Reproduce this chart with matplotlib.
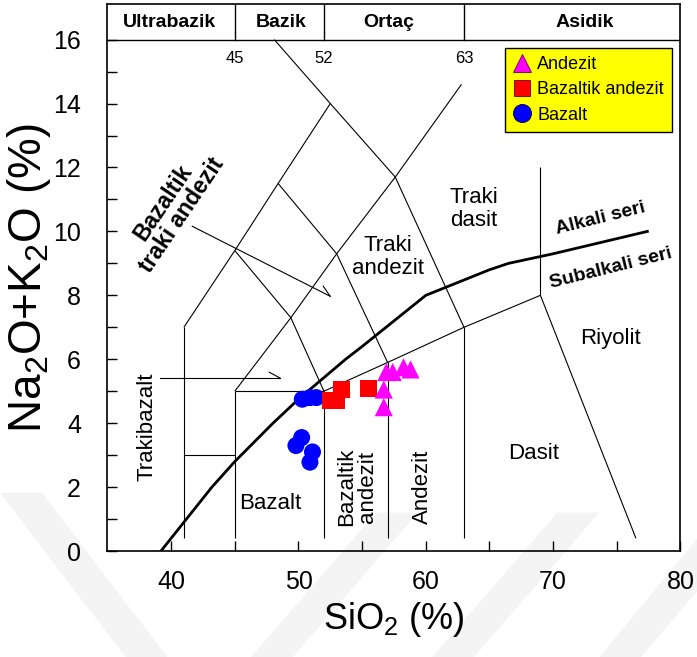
import matplotlib
matplotlib.use("Agg")
import matplotlib.pyplot as plt
from matplotlib.lines import Line2D
from matplotlib.patches import Polygon

plt.rcParams['font.family'] = ['Liberation Sans', 'DejaVu Sans']
plt.rcParams['mathtext.fontset'] = 'custom'
plt.rcParams['mathtext.rm'] = 'Liberation Sans'

# sample analyses (SiO2 vs total alkali, wt%)
bazalt_sio2 = [50.3, 50.9, 51.4, 50.25, 49.8, 51.1, 50.9]
bazalt_alk = [4.75, 4.8, 4.8, 3.55, 3.3, 3.1, 2.78]
baz_andezit_sio2 = [52.55, 53.0, 53.4, 55.5]
baz_andezit_alk = [4.7, 4.7, 5.05, 5.08]
andezit_sio2 = [56.9, 57.4, 58.25, 58.8, 56.7, 56.7]
andezit_alk = [5.6, 5.6, 5.75, 5.68, 5.05, 4.5]

# TAS field boundaries (Le Bas et al.)
fields = [
    ([41, 41], [0.4, 7]),
    ([45, 45], [0.4, 5]),
    ([52, 52], [0.4, 5]),
    ([57, 57], [0.4, 5.9]),
    ([63, 63], [0.4, 7]),
    ([41, 45], [3, 3]),
    ([45, 52], [5, 5]),
    ([52, 57, 63, 69], [5, 5.9, 7, 8]),
    ([69, 69], [8, 12]),
    ([69, 76.5], [8, 0.4]),
    ([41, 45, 48.4, 52.5], [7, 9.4, 11.5, 14]),
    ([48.1, 52.5, 57.6, 63], [16, 14, 11.7, 7]),
    ([45, 49.4, 52], [9.4, 7.3, 5]),
    ([45, 49.4, 53, 57.6, 62.8], [5, 7.3, 9.3, 11.7, 14.6]),
    ([48.4, 53, 57], [11.5, 9.3, 5.9]),
]

# alkaline / subalkaline divide (Irvine & Baragar)
seri_sio2 = [39.2, 40, 43.2, 45, 48, 50, 53.7, 55, 60, 65, 66.5, 70, 77.4]
seri_alk = [0, 0.4, 2.0, 2.8, 4.0, 4.75, 6.0, 6.4, 8.0, 8.8, 9.0, 9.3, 10.0]

groups = ['Ultrabazik', 'Bazik', 'Ortaç', 'Asidik']
group_x = [39.9, 48.6, 57.1, 72.5]
group_limits = [45, 52, 63]

fig = plt.figure(figsize=(6.97, 6.57), dpi=100)

# faint chevron stripes along the bottom of the page
stripes = [
    [(0.00, 0.25), (0.06, 0.25), (0.24, 0.00), (0.18, 0.00)],
    [(0.36, 0.00), (0.42, 0.00), (0.60, 0.22), (0.54, 0.22)],
    [(0.62, 0.00), (0.68, 0.00), (0.86, 0.22), (0.80, 0.22)],
    [(0.86, 0.00), (0.92, 0.00), (1.00, 0.10), (1.00, 0.18)],
]
for pts in stripes:
    fig.patches.append(Polygon(pts, closed=True, transform=fig.transFigure,
                               facecolor='#f4f4f4', edgecolor='none', zorder=-1))

ax = fig.add_axes([0.1542, 0.1613, 0.8221, 0.8319])
ax.set_facecolor('none')

for xs, ys in fields:
    ax.plot(xs, ys, color='black', lw=0.8, solid_capstyle='butt')
ax.plot(seri_sio2, seri_alk, color='black', lw=2.0)

# header band with silica groups
ax.plot([35, 80], [16, 16], color='black', lw=1.0)
for lim in group_limits:
    ax.plot([lim, lim], [16, 17.1], color='black', lw=1.0)
    ax.text(lim, 15.4, str(lim), ha='center', va='center', fontsize=12)
for name, gx in zip(groups, group_x):
    ax.text(gx, 16.53, name, ha='center', va='center', fontsize=14,
            fontweight='bold')

# field names
ax.text(38.1, 3.9, 'Trakibazalt', rotation=90, ha='center', va='center', fontsize=16)
ax.text(47.8, 1.5, 'Bazalt', ha='center', va='center', fontsize=16)
ax.text(54.6, 2.0, 'Bazaltik\nandezit', rotation=90, ha='center', va='center',
        fontsize=16, linespacing=1.0)
ax.text(59.7, 2.0, 'Andezit', rotation=90, ha='center', va='center', fontsize=16)
ax.text(68.5, 3.06, 'Dasit', ha='center', va='center', fontsize=16)
ax.text(74.5, 6.66, 'Riyolit', ha='center', va='center', fontsize=16)
ax.text(63.8, 10.7, 'Traki\ndasit', ha='center', va='center', fontsize=16,
        linespacing=1.1)
ax.text(57.0, 9.2, 'Traki\nandezit', ha='center', va='center', fontsize=16,
        linespacing=1.1)
ax.text(73.7, 10.4, 'Alkali seri', rotation=14, ha='center', va='center',
        fontsize=14, fontweight='bold')
ax.text(74.5, 8.83, 'Subalkali seri', rotation=14, ha='center', va='center',
        fontsize=14, fontweight='bold')
ax.text(40.1, 10.7, 'Bazaltik\ntraki andezit', rotation=56, ha='center',
        va='center', fontsize=16.5, fontweight='bold', linespacing=1.0)

# pointers with a single barb
ax.plot([39.14, 48.56], [5.41, 5.41], color='black', lw=0.8)
ax.annotate('', xy=(48.56, 5.41), xytext=(-7.9, 4.3), textcoords='offset points',
            arrowprops=dict(arrowstyle='-', lw=0.8, color='black',
                            shrinkA=0, shrinkB=0))
ax.plot([41.66, 52.49], [10.16, 7.97], color='black', lw=0.8)
ax.annotate('', xy=(52.49, 7.97), xytext=(-5.1, 7.4), textcoords='offset points',
            arrowprops=dict(arrowstyle='-', lw=0.8, color='black',
                            shrinkA=0, shrinkB=0))

ax.scatter(bazalt_sio2, bazalt_alk, s=150, marker='o', color='#0000ff',
           edgecolors='none', zorder=5)
ax.scatter(baz_andezit_sio2, baz_andezit_alk, s=150, marker='s', color='#ff0000',
           edgecolors='none', zorder=5)
ax.scatter(andezit_sio2, andezit_alk, s=170, marker='^', color='#ff00ff',
           edgecolors='none', zorder=5)

handles = [
    Line2D([], [], ls='none', marker='^', ms=13, mfc='#ff00ff', mec='#660066', mew=0.6),
    Line2D([], [], ls='none', marker='s', ms=12, mfc='#ff0000', mec='#660000', mew=0.6),
    Line2D([], [], ls='none', marker='o', ms=13, mfc='#0000ff', mec='#000033', mew=0.6),
]
leg = ax.legend(handles, ['Andezit', 'Bazaltik andezit', 'Bazalt'],
                loc='upper right', bbox_to_anchor=(0.985, 0.92), borderaxespad=0,
                fontsize=13, handlelength=1.0, handletextpad=0.35,
                labelspacing=0.45, borderpad=0.45, fancybox=False, framealpha=1)
leg.get_frame().set_facecolor('#ffff00')
leg.get_frame().set_edgecolor('black')
leg.get_frame().set_linewidth(1.0)
leg.set_zorder(6)

ax.set_xlim(35, 80)
ax.set_ylim(0, 17.1)
ax.set_xticks([40, 50, 60, 70, 80])
ax.set_xticks([45, 55, 65, 75], minor=True)
ax.set_yticks(range(0, 17, 2))
ax.set_yticks(range(1, 17, 2), minor=True)
ax.tick_params(which='both', direction='in', length=7, width=1.0, labelsize=18)
ax.tick_params(axis='y', pad=19)
ax.tick_params(axis='x', pad=14)
for sp in ax.spines.values():
    sp.set_linewidth(1.2)

ax.set_xlabel('SiO$_2$ (%)', fontsize=26, labelpad=4)
ax.set_ylabel('Na$_2$O+K$_2$O (%)', fontsize=33, labelpad=0)

fig.savefig('out.png', dpi=100)
